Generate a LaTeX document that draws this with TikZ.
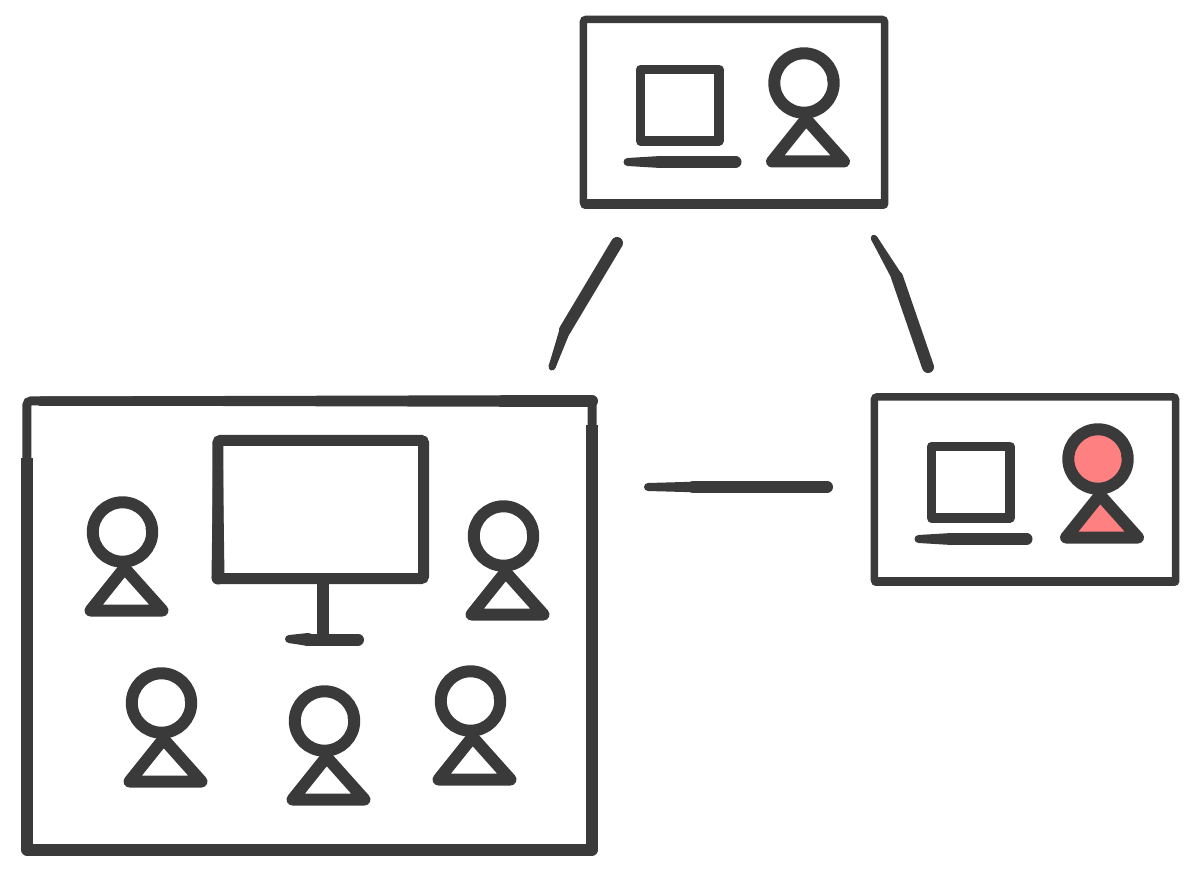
\documentclass[tikz,border=0pt]{standalone}
\usetikzlibrary{calc}
\definecolor{ink}{HTML}{3A3A3A}
\definecolor{flush}{HTML}{FF8080}
% stroke from #1 (width #3) that thins out to #2 (width #4), widths in px
\newcommand{\taper}[4]{
  \draw[ink,line width=#4*0.025cm,line cap=round] (#1) -- (#2);
  \fill[ink] ($(#1)!#3*0.0125cm!90:(#2)$) -- ($(#2)!#4*0.0125cm!-90:(#1)$)
    -- ($(#2)!#4*0.0125cm!90:(#1)$) -- ($(#1)!#3*0.0125cm!-90:(#2)$) -- cycle;
  \fill[ink] (#1) circle ({#3*0.0125cm});
}
\tikzset{
  room/.style={draw=ink,line width=7.5*0.025cm,inner sep=0pt,outer sep=0pt,rounded corners=0.06cm},
  bigroom/.style={room,line width=9*0.025cm,rounded corners=0.1cm},
  edge/.style={draw=ink,line width=12*0.025cm,line join=round},
  sill/.style={draw=ink,line width=9.7*0.025cm,line cap=round},
  link/.style={draw=ink,line width=12*0.025cm,line cap=round,line join=round},
  person/.pic={
    \draw[ink,line width=12*0.025cm,fill=#1] (0,0) circle (29.7);
    \draw[ink,line width=7*0.025cm,line cap=round] (26.5,-3) -- (30,-6);
    \draw[ink,line width=12*0.025cm,line join=round,fill=#1] (2,36) -- (-32,78.5) -- (40,78.5) -- cycle;
  },
  pics/person/.default=white,
  laptop/.pic={
    \draw[ink,line width=9.5*0.025cm,line join=round] (0,0) rectangle (78.5,71.5);
    \draw[ink,line width=12*0.025cm,line cap=round] (20,92.5) -- (95,92.5);
    \taper{20,92.5}{-13,92.5}{12}{8}
  }
}
\begin{document}
\begin{tikzpicture}[x=0.025cm,y=-0.025cm]
\useasboundingbox (0,0) rectangle (1200,872);

\node[room,minimum width=7.525cm,minimum height=4.625cm] (toproom) at (734,112) {};
\node[room,minimum width=7.525cm,minimum height=4.625cm] (sideroom) at (1025,489.5) {};
\node[bigroom,minimum width=14.125cm,minimum height=11.2cm] (mainroom) at (309.5,625) {};

% heavier strokes on the rooms
\draw[sill] (585,204.3) -- (883.5,204.3);
\draw[sill] (876,581.5) -- (1174.5,581.5);
\draw[edge] (27,458) -- (27,849.5) -- (592,849.5) -- (592,425);
\taper{592,401}{40,401}{12}{9}

% laptops and their people
\pic at (640.5,69.5) {laptop};
\pic at (804,83) {person};
\pic at (931.5,446.5) {laptop};
\pic at (1098,459) {person=flush};

% monitor
\node[draw=ink,line width=11*0.025cm,inner sep=0pt,rounded corners=0.06cm,minimum width=5.1375cm,minimum height=3.45cm] (screen) at (320.75,509.5) {};
\taper{218,578}{218,470}{13}{10}
\coordinate (foot) at (323,638);
\coordinate (footl) at (289,639);
\coordinate (footm) at (308,639.5);
\coordinate (footr) at (358,639.5);
\draw[ink,line width=11.5*0.025cm] (screen.south -| foot) -- (foot);
\taper{footm}{footl}{13}{8}
\draw[link] (footm) -- (footr);

% people in the main room
\pic at (122.5,532) {person};
\pic at (503.5,536) {person};
\pic at (161.5,703) {person};
\pic at (324.5,721) {person};
\pic at (470.5,701) {person};

% connectors
\coordinate (a1) at (617,243);
\coordinate (a2) at (565,330);
\coordinate (a3) at (552,367);
\coordinate (b1) at (874,238);
\coordinate (b2) at (897,277);
\coordinate (b3) at (928,367);
\coordinate (c1) at (648,487);
\coordinate (c2) at (693,487);
\coordinate (c3) at (827,487);
\draw[link] (a1) -- (a2);
\taper{a2}{a3}{11}{7}
\taper{b2}{b1}{11}{6.5}
\draw[link] (b2) -- (b3);
\taper{c2}{c1}{10.5}{8}
\draw[link] (c2) -- (c3);
\end{tikzpicture}
\end{document}
